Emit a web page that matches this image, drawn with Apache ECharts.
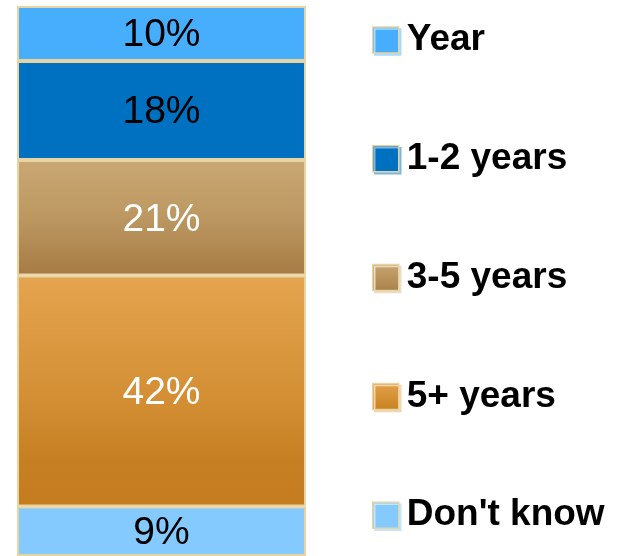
<!DOCTYPE html>
<html>
<head>
<meta charset="utf-8">
<script src="https://cdn.jsdelivr.net/npm/echarts@6/dist/echarts.min.js"></script>
<style>
  html, body { margin: 0; padding: 0; background: #ffffff; }
  #chart { width: 618px; height: 556px; }
</style>
</head>
<body>
<div id="chart"></div>
<script>
// Single stacked column: how long respondents expect, in percent
const categories = ['All'];
const seriesNames = ['Year', '1-2 years', '3-5 years', '5+ years', "Don't know"];
const seriesValues = [10, 18, 21, 42, 9];

const FONT = '"Liberation Sans", Arial, Helvetica, sans-serif';
const EDGE = '#E8D4A2';

function vgrad(stops) {
  return new echarts.graphic.LinearGradient(0, 0, 0, 1,
    stops.map(([offset, color]) => ({ offset, color })));
}

const fills = [
  '#46AEFD',
  '#0070C0',
  vgrad([[0, '#CAA874'], [0.5, '#BC9761'], [1, '#A67B43']]),
  vgrad([[0, '#E5A44F'], [0.55, '#D38E33'], [0.8, '#C67F22'], [1, '#C47C1F']]),
  '#84CAFE'
];
const legendFills = ['#46AEFD', '#0070C0',
  vgrad([[0, '#C9A672'], [1, '#A9804A']]),
  vgrad([[0, '#E2A24C'], [1, '#C8811F']]),
  '#84CAFE'];
const legendShadows = ['#A9D9FF', '#7FB6E0', '#EBDDC4', '#F0D6B0', '#C3E5FF'];
const labelColors = ['#000000', '#000000', '#ffffff', '#ffffff', '#000000'];

// ECharts stacks the first series at the bottom, so add them bottom-up
const series = [];
for (let i = seriesNames.length - 1; i >= 0; i--) {
  series.push({
    name: seriesNames[i],
    type: 'bar',
    stack: 'total',
    barWidth: '100%',
    data: [seriesValues[i]],
    itemStyle: { color: fills[i], borderColor: EDGE, borderWidth: 2 },
    label: {
      show: true,
      position: 'inside',
      offset: [0, 2],
      formatter: '{c}%',
      color: labelColors[i],
      fontFamily: FONT,
      fontSize: 39,
      fontWeight: 'normal'
    },
    emphasis: { disabled: true }
  });
}

const chart = echarts.init(document.getElementById('chart'), null, { renderer: 'canvas' });
chart.setOption({
  animation: false,
  grid: { left: 17, width: 289, top: 6, bottom: 0, containLabel: false },
  xAxis: {
    type: 'category',
    data: categories,
    show: false
  },
  yAxis: { type: 'value', min: 0, max: 100, show: false },
  legend: {
    orient: 'vertical',
    left: 372,
    top: 20,
    padding: 0,
    itemWidth: 26,
    itemHeight: 26,
    itemGap: 78.8,
    icon: 'rect',
    data: seriesNames.map((name, i) => ({
      name,
      itemStyle: {
        color: legendFills[i],
        borderColor: EDGE,
        borderWidth: 1.5,
        shadowColor: legendShadows[i],
        shadowBlur: 0,
        shadowOffsetX: 2,
        shadowOffsetY: 2
      }
    })),
    textStyle: {
      fontFamily: FONT,
      fontSize: 37,
      fontWeight: 'bold',
      color: '#000000',
      lineHeight: 40,
      padding: [0, 0, 0, 3]
    },
    selectedMode: false
  },
  series
});
</script>
</body>
</html>
